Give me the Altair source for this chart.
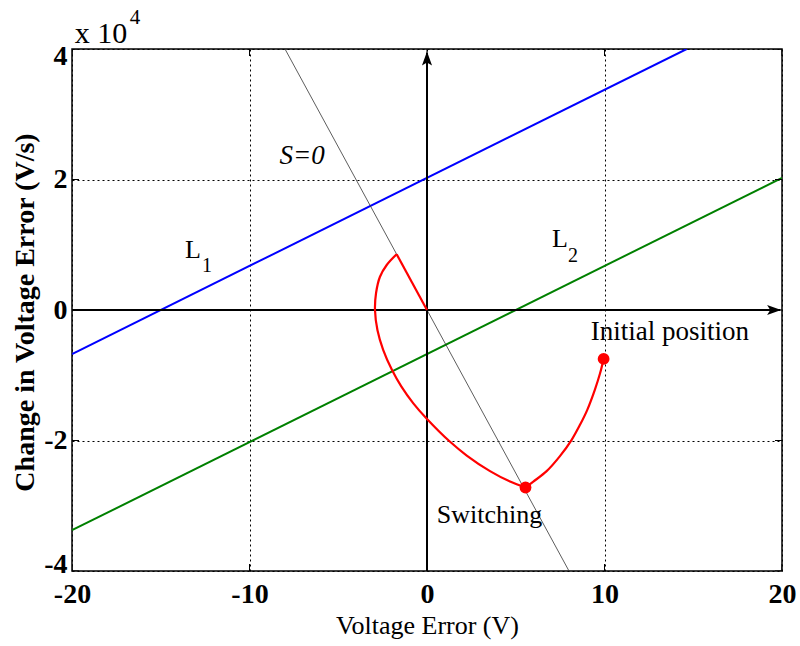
import altair as alt
import pandas as pd

SERIF = "Liberation Serif"

# Axis tick positions (y in V/s, labelled in units of 10^4)
x_ticks = [-20, -10, 0, 10, 20]
y_ticks = [-40000, -20000, 0, 20000, 40000]

# Sliding lines L1, L2 and switching line S = 0 (end points)
l1_x = [-20, 14.63]
l1_y = [-6750, 40000]
l2_x = [-20, 20]
l2_y = [-33750, 20250]
s_x = [-8, 8]
s_y = [40000, -40000]

# Phase trajectory, split at the corners
seg1_x = [9.95, 9.75, 9.46, 9.03, 8.62, 8.15, 7.49, 6.74, 5.99, 5.55]
seg1_y = [-7500, -9700, -12200, -15300, -17600, -19900, -22400, -24700, -26300, -27200]
seg2_x = [5.55, 4.68, 3.55, 2.24, 1.30, 0.0, -0.77, -1.45, -1.97, -2.47,
          -2.79, -2.93, -2.87, -2.65, -2.27, -1.71]
seg2_y = [-27200, -26300, -24700, -22300, -20200, -16700, -14300, -11700, -9200, -6100,
          -3100, 0, 2600, 5100, 6900, 8550]
seg3_x = [-1.71, 0.0]
seg3_y = [8550, 0]

# Marked states: initial position and switching instant
pts_x = [9.95, 5.55]
pts_y = [-7500, -27200]

xs = alt.Scale(domain=[-20, 20], nice=False, zero=False)
ys = alt.Scale(domain=[-40000, 40000], nice=False, zero=False)

x_axis = alt.Axis(
    values=x_ticks, title="Voltage Error (V)", grid=True, gridColor="black",
    gridDash=[2, 3], gridOpacity=1, gridWidth=1, domain=False, ticks=False,
    tickSize=0, labelExpr="'' + datum.value",
    labelFont=SERIF, labelFontSize=28, labelFontWeight="bold",
    labelColor="black", labelPadding=9, labelFlush=False,
    titleFont=SERIF, titleFontSize=26, titleFontWeight="normal", titleColor="black",
    titleX=355, titleY=54, titleBaseline="middle", titleAlign="center",
)
y_axis = alt.Axis(
    values=y_ticks, title="Change in Voltage Error (V/s)", grid=True, gridColor="black",
    gridDash=[2, 3], gridOpacity=1, gridWidth=1, domain=False, ticks=False,
    tickSize=0, labelExpr="'' + round(datum.value / 10000)",
    labelFont=SERIF, labelFontSize=28, labelFontWeight="bold", labelColor="black",
    labelPadding=5, labelFlush=True, labelFlushOffset=7,
    titleFont=SERIF, titleFontSize=28, titleFontWeight="bold", titleColor="black",
    titleX=-47, titleY=263, titleBaseline="middle", titleAlign="center", titleAngle=-90,
)


def enc(**extra):
    return dict(
        x=alt.X("x:Q", scale=xs, axis=x_axis),
        y=alt.Y("y:Q", scale=ys, axis=y_axis),
        **extra,
    )


lines_df = pd.DataFrame(
    [dict(x=a, y=b, k="L1") for a, b in zip(l1_x, l1_y)]
    + [dict(x=a, y=b, k="L2") for a, b in zip(l2_x, l2_y)]
)
colors = alt.Scale(domain=["L1", "L2"], range=["#0000ff", "#008000"])

lines = alt.Chart(lines_df).mark_line(clip=True, strokeWidth=2).encode(
    **enc(color=alt.Color("k:N", scale=colors, legend=None), detail="k:N")
)
s_line = alt.Chart(pd.DataFrame({"x": s_x, "y": s_y})).mark_line(
    clip=True, strokeWidth=0.8, color="#333333"
).encode(**enc())

# Inward frame ticks
tick_lr = pd.DataFrame([dict(x=xv, y=yv) for xv in (-20, 20) for yv in y_ticks])
tick_tb = pd.DataFrame([dict(x=xv, y=yv) for yv in (-40000, 40000) for xv in x_ticks])
ticks_h = alt.Chart(tick_lr).mark_tick(
    orient="horizontal", size=14, thickness=1, color="black", clip=True, opacity=1
).encode(**enc())
ticks_v = alt.Chart(tick_tb).mark_tick(
    orient="vertical", size=14, thickness=1, color="black", clip=True, opacity=1
).encode(**enc())

# Coordinate axes with arrow heads
axes_h = alt.Chart(pd.DataFrame({"x": [-20], "x2": [19.9], "y": [0]})).mark_rule(
    color="black", strokeWidth=2
).encode(**enc(x2="x2:Q"))
axes_v = alt.Chart(pd.DataFrame({"x": [0], "y": [-40000], "y2": [39400]})).mark_rule(
    color="black", strokeWidth=2
).encode(**enc(y2="y2:Q"))
arrow_r = alt.Chart(pd.DataFrame({"x": [19.95], "y": [0]})).mark_point(
    shape="M0,0L-2,-0.72L-1.55,0L-2,0.72Z", size=196, filled=True,
    color="black", opacity=1, strokeWidth=0
).encode(**enc())
arrow_u = alt.Chart(pd.DataFrame({"x": [0], "y": [39600]})).mark_point(
    shape="M0,0L-0.72,2L0,1.55L0.72,2Z", size=196, filled=True,
    color="black", opacity=1, strokeWidth=0
).encode(**enc())

traj_df = pd.DataFrame(
    [dict(x=a, y=b, seg=1, i=i) for i, (a, b) in enumerate(zip(seg1_x, seg1_y))]
    + [dict(x=a, y=b, seg=2, i=i) for i, (a, b) in enumerate(zip(seg2_x, seg2_y))]
    + [dict(x=a, y=b, seg=3, i=i) for i, (a, b) in enumerate(zip(seg3_x, seg3_y))]
)
traj = alt.Chart(traj_df).mark_line(
    color="#ff0000", strokeWidth=2.2, interpolate="catmull-rom"
).encode(**enc(detail="seg:N", order="i:Q"))

pts = alt.Chart(pd.DataFrame({"x": pts_x, "y": pts_y})).mark_point(
    shape="circle", size=140, filled=True, color="#ff0000", opacity=1
).encode(**enc())

# Text annotations
labels_df = pd.DataFrame([
    dict(x=-7.04, y=23600, t="S=0", fs=27, st="italic", al="center", bl="middle"),
    dict(x=-13.63, y=8000, t="L", fs=26, st="normal", al="left", bl="alphabetic"),
    dict(x=-12.68, y=5800, t="1", fs=20, st="normal", al="left", bl="alphabetic"),
    dict(x=7.04, y=9600, t="L", fs=26, st="normal", al="left", bl="alphabetic"),
    dict(x=7.94, y=7300, t="2", fs=20, st="normal", al="left", bl="alphabetic"),
    dict(x=9.22, y=-4600, t="Initial position", fs=27, st="normal", al="left", bl="alphabetic"),
    dict(x=0.55, y=-32600, t="Switching", fs=26, st="normal", al="left", bl="alphabetic"),
    dict(x=-19.85, y=40900, t="x 10", fs=30, st="normal", al="left", bl="alphabetic"),
    dict(x=-16.75, y=43900, t="4", fs=21, st="normal", al="left", bl="alphabetic"),
])


def text_layer(df):
    layers = []
    for _, r in df.iterrows():
        layers.append(
            alt.Chart(pd.DataFrame([r])).mark_text(
                font=SERIF, fontSize=r.fs, fontStyle=r.st, align=r.al,
                baseline=r.bl, color="black"
            ).encode(**enc(text="t:N"))
        )
    return layers


chart = alt.layer(
    lines, s_line, ticks_h, ticks_v, axes_h, axes_v, arrow_r, arrow_u, traj, pts,
    *text_layer(labels_df)
).properties(
    width=710, height=522,
    autosize=alt.AutoSizeParams(type="none"),
    padding={"left": 72, "top": 49, "right": 18, "bottom": 75},
    background="white",
).configure_view(stroke="black", strokeWidth=1.5)

chart.save("out.html", embed_options={"renderer": "svg", "actions": False})
